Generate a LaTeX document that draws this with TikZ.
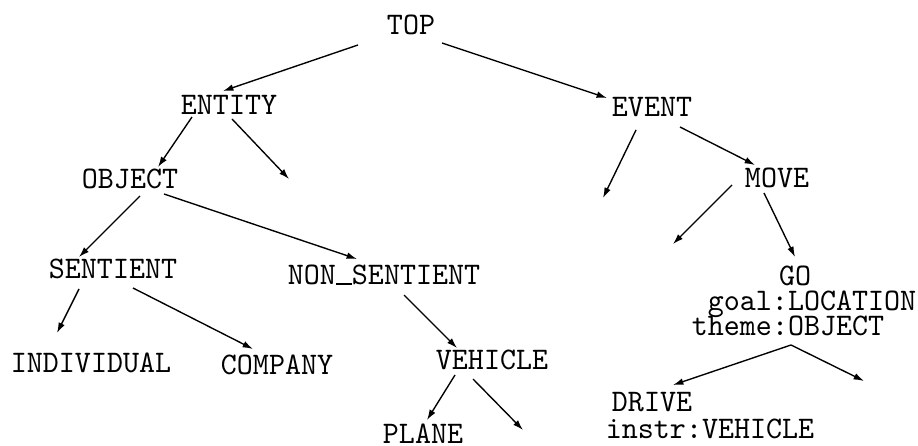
\documentclass[tikz,border=0pt]{standalone}
\usetikzlibrary{arrows.meta,calc}
\newcommand{\ttbar}{\makebox[0.525em][c]{\rule{0.5em}{0.06em}}}
\begin{document}
\begin{tikzpicture}[x=0.328pt,y=-0.328pt,
  lbl/.style={anchor=base,inner sep=0pt,xscale=0.971,font=\ttfamily\fontsize{10.3}{12}\selectfont},
  arr/.style={-{Latex[length=3.4pt,width=2.2pt]},line width=0.45pt}]
\useasboundingbox[fill=white] (0,0) rectangle (918,446);
% nodes (centre x, baseline y)
\node[lbl] (TOP) at (411,35) {TOP};
\node[lbl] (ENTITY) at (229,115) {ENTITY};
\node[lbl] (OBJECT) at (130,189) {OBJECT};
\node[lbl] (EVENT) at (652,117) {EVENT};
\node[lbl] (MOVE) at (777,188) {MOVE};
\node[lbl] (GO) at (795,286) {GO};
\node[lbl] (goal) at (812,311) {goal:LOCATION};
\node[lbl] (theme) at (788,336) {theme:OBJECT};
\node[lbl] (DRIVE) at (652,412) {DRIVE};
\node[lbl] (instr) at (710,439) {instr:VEHICLE};
\node[lbl] (SENTIENT) at (113,279) {SENTIENT};
\node[lbl] (INDIVIDUAL) at (91,373) {INDIVIDUAL};
\node[lbl] (COMPANY) at (277,375) {COMPANY};
\node[lbl] (NONSENTIENT) at (384,285) {NON\ttbar SENTIENT};
\node[lbl] (VEHICLE) at (492,370) {VEHICLE};
\node[lbl] (PLANE) at (423,444) {PLANE};
% free ends
\coordinate (e1) at (289,179);
\coordinate (e2) at (523,430);
\coordinate (e3) at (603,198);
\coordinate (e4) at (673,244);
\coordinate (e5) at (864,381);
% connectors
\draw[arr] ($(TOP.base)+(-53,10)$) -- ($(ENTITY.base)+(-6,-24)$);
\draw[arr] ($(TOP.base)+(31,8)$) -- ($(EVENT.base)+(-45,-19)$);
\draw[arr] ($(ENTITY.base)+(-37,2)$) -- ($(OBJECT.base)+(28,-22)$);
\draw[arr] ($(ENTITY.base)+(3,4)$) -- (e1);
\draw[arr] ($(OBJECT.base)+(10,7)$) -- ($(SENTIENT.base)+(-34,-22)$);
\draw[arr] ($(OBJECT.base)+(34,5)$) -- ($(NONSENTIENT.base)+(-27,-26)$);
\draw[arr] ($(SENTIENT.base)+(-34,10)$) -- ($(INDIVIDUAL.base)+(-34,-40)$);
\draw[arr] ($(SENTIENT.base)+(20,9)$) -- ($(COMPANY.base)+(-24,-26)$);
\draw[arr] ($(NONSENTIENT.base)+(20,10)$) -- ($(VEHICLE.base)+(-35,-22)$);
\draw[arr] ($(VEHICLE.base)+(-37,5)$) -- ($(PLANE.base)+(4,-24)$);
\draw[arr] ($(VEHICLE.base)+(-19,9)$) -- (e2);
\draw[arr] ($(EVENT.base)+(-16,13)$) -- (e3);
\draw[arr] ($(EVENT.base)+(28,10)$) -- ($(MOVE.base)+(-22,-23)$);
\draw[arr] ($(MOVE.base)+(-45,-3)$) -- (e4);
\draw[arr] ($(MOVE.base)+(-13,5)$) -- ($(GO.base)+(0,-29)$);
\draw[arr] ($(theme.base)+(3,9)$) -- ($(DRIVE.base)+(21,-27)$);
\draw[arr] ($(theme.base)+(3,9)$) -- (e5);
\end{tikzpicture}
\end{document}
